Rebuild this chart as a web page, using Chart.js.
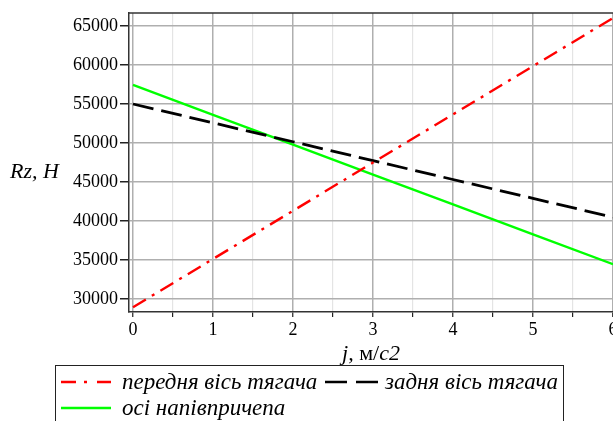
<!DOCTYPE html>
<html>
<head>
<meta charset="utf-8">
<script src="https://cdn.jsdelivr.net/npm/chart.js@4.4.1/dist/chart.umd.min.js"></script>
<style>
html,body{margin:0;padding:0;background:#fff;overflow:hidden;}
#wrap{position:relative;width:640px;height:421px;}
</style>
</head>
<body>
<div id="wrap"><canvas id="c"></canvas></div>
<script>
const xValues = [0, 1, 2, 3, 4, 5, 6];
const frontAxle = [28950, 35130, 41310, 47490, 53670, 59850, 66030];
const rearAxle = [55000, 52580, 50160, 47740, 45320, 42900, 40480];
const trailerAxles = [57440, 53610, 49780, 45950, 42120, 38290, 34460];
const seriesNames = ['передня вісь тягача', 'задня вісь тягача', 'осі напівпричепа'];
const xTickValues = [0, 0.5, 1, 1.5, 2, 2.5, 3, 3.5, 4, 4.5, 5, 5.5, 6];
const xTickLabels = ['0', '1', '2', '3', '4', '5', '6'];
const yTickValues = [30000, 35000, 40000, 45000, 50000, 55000, 60000, 65000];
const yTickLabels = ['30000', '35000', '40000', '45000', '50000', '55000', '60000', '65000'];

const pts = arr => arr.map((v, i) => ({x: xValues[i], y: v}));

const overlay = {
  id: 'overlay',
  afterDraw(chart) {
    const ctx = chart.ctx;
    const a = chart.chartArea;
    ctx.save();
    // top border
    ctx.strokeStyle = '#333';
    ctx.lineWidth = 1.5;
    ctx.beginPath();
    ctx.moveTo(a.left - 0.75, a.top);
    ctx.lineTo(a.right + 20, a.top);
    ctx.stroke();

    // axis titles
    ctx.fillStyle = '#000';
    ctx.textBaseline = 'middle';
    ctx.textAlign = 'left';
    ctx.font = 'italic 22px "Liberation Serif"';
    ctx.fillText('Rz, H', 10, 172);
    const parts = [
      ['j,', 'italic 22px "Liberation Serif"'],
      [' м/', '22px "Liberation Serif"'],
      ['c2', 'italic 22px "Liberation Serif"']
    ];
    let total = 0;
    parts.forEach(p => { ctx.font = p[1]; total += ctx.measureText(p[0]).width; });
    let x = (a.left + 613) / 2 - total / 2;
    const ty = 354;
    parts.forEach(p => { ctx.font = p[1]; ctx.fillText(p[0], x, ty); x += ctx.measureText(p[0]).width; });

    // legend box
    ctx.strokeStyle = '#222';
    ctx.lineWidth = 1;
    ctx.strokeRect(55.5, 365.5, 508, 80);
    const ds = chart.data.datasets;
    const items = [
      {d: ds[0], x0: 61, x1: 111, tx: 122, y: 382},
      {d: ds[1], x0: 325, x1: 378, tx: 385, y: 382},
      {d: ds[2], x0: 61, x1: 111, tx: 122, y: 408}
    ];
    items.forEach(it => {
      ctx.strokeStyle = it.d.borderColor;
      ctx.lineWidth = 2.5;
      ctx.setLineDash(it.d.legendDash || []);
      ctx.beginPath();
      ctx.moveTo(it.x0, it.y);
      ctx.lineTo(it.x1, it.y);
      ctx.stroke();
      ctx.setLineDash([]);
      ctx.fillStyle = '#000';
      ctx.font = 'italic 23px "Liberation Serif"';
      ctx.textBaseline = 'middle';
      ctx.fillText(it.d.label, it.tx, it.y + 1);
    });
    ctx.restore();
  }
};

new Chart(document.getElementById('c'), {
  type: 'line',
  data: {
    datasets: [
      {label: seriesNames[0], data: pts(frontAxle), borderColor: '#ff0000', borderWidth: 2.4,
       borderDash: [15, 7, 3, 7], legendDash: [15, 8, 3, 10], pointRadius: 0, tension: 0},
      {label: seriesNames[1], data: pts(rearAxle), borderColor: '#000000', borderWidth: 2.8,
       borderDash: [21, 8], legendDash: [22, 9], pointRadius: 0, tension: 0},
      {label: seriesNames[2], data: pts(trailerAxles), borderColor: '#00ff00', borderWidth: 2.4,
       pointRadius: 0, tension: 0}
    ]
  },
  options: {
    responsive: true,
    maintainAspectRatio: false,
    animation: false,
    devicePixelRatio: 1,
    layout: {padding: {top: 13, right: 27, left: 0, bottom: 0}},
    plugins: {legend: {display: false}, tooltip: {enabled: false}},
    scales: {
      x: {
        type: 'linear',
        min: -0.05,
        max: 6,
        afterBuildTicks: s => { s.ticks = xTickValues.map(v => ({value: v})); },
        afterFit: s => { s.height = 109; },
        ticks: {
          autoSkip: false,
          maxRotation: 0,
          padding: 2,
          color: '#000',
          font: {family: '"Liberation Serif"', size: 18},
          callback: v => (Number.isInteger(v) ? xTickLabels[v] : '')
        },
        grid: {
          color: c => (Number.isInteger(c.tick.value) ? '#afafaf' : '#e4e4e4'),
          lineWidth: c => (Number.isInteger(c.tick.value) ? 1.5 : 1.2),
          tickColor: '#222',
          tickLength: 5,
          tickWidth: 1.2
        },
        border: {display: true, color: '#333', width: 1.5}
      },
      y: {
        type: 'linear',
        min: 28333,
        max: 66667,
        afterBuildTicks: s => { s.ticks = yTickValues.map(v => ({value: v})); },
        afterFit: s => { s.width = 129; },
        ticks: {
          autoSkip: false,
          padding: 2,
          color: '#000',
          font: {family: '"Liberation Serif"', size: 18},
          callback: (v) => { const i = yTickValues.indexOf(v); return i >= 0 ? yTickLabels[i] : ''; }
        },
        grid: {
          color: '#afafaf',
          lineWidth: 1.5,
          tickColor: '#222',
          tickLength: 9,
          tickWidth: 1.5
        },
        border: {display: true, color: '#333', width: 1.5}
      }
    }
  },
  plugins: [overlay]
});
</script>
</body>
</html>
